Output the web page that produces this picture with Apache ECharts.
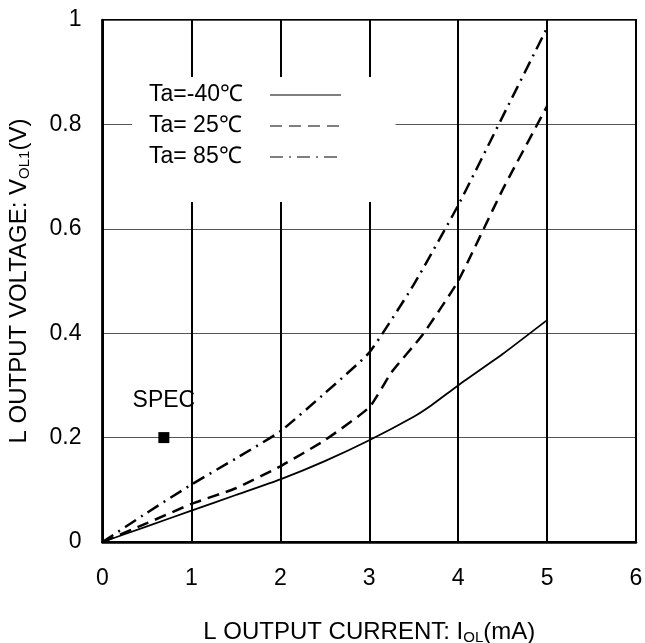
<!DOCTYPE html>
<html>
<head>
<meta charset="utf-8">
<style>html,body{margin:0;padding:0;background:#fff}#c{width:645px;height:643px}</style>
<script src="https://cdn.jsdelivr.net/npm/echarts@6/dist/echarts.min.js"></script>
</head>
<body>
<div id="c"></div>
<script>
const seriesNames = ['Ta=-40\u2103', 'Ta= 25\u2103', 'Ta= 85\u2103'];
const currentMinus40 = [0, 0.5, 1, 1.5, 2, 2.5, 3, 3.5, 3.7, 4, 4.5, 5];
const voltageMinus40 = [0, 0.03, 0.06, 0.09, 0.12, 0.155, 0.195, 0.24, 0.262, 0.3, 0.36, 0.425];
const current25 = [0, 0.5, 1, 1.5, 2, 2.5, 3, 3.25, 3.6, 4, 4.5, 5];
const voltage25 = [0, 0.036, 0.073, 0.103, 0.145, 0.195, 0.258, 0.325, 0.397, 0.5, 0.675, 0.835];
const current85 = [0, 0.5, 1, 1.5, 2, 2.5, 3, 3.5, 4, 4.5, 5];
const voltage85 = [0, 0.056, 0.11, 0.16, 0.212, 0.285, 0.363, 0.493, 0.645, 0.815, 0.985];
const specPoint = [0.69, 0.2];
const specLabel = 'SPEC';
const xTicks = [0, 1, 2, 3, 4, 5, 6];
const yTicks = [0, 0.2, 0.4, 0.6, 0.8, 1];

const FONT = '"Liberation Sans", Arial, sans-serif';
const pairs = (xs, ys) => xs.map((x, i) => [x, ys[i]]);
const nameRich = {
  m: {fontSize: 24, fontFamily: FONT, color: '#000', verticalAlign: 'top', lineHeight: 25},
  s: {fontSize: 15, fontFamily: FONT, color: '#000', verticalAlign: 'bottom', lineHeight: 15, padding: [16, 0, 0, 0]}
};

const chart = echarts.init(document.getElementById('c'), null, {renderer: 'canvas'});
chart.setOption({
  backgroundColor: '#fff',
  animation: false,
  textStyle: {fontFamily: FONT, color: '#000'},
  grid: {left: 102.5, right: 9, top: 20, bottom: 101, outerBoundsMode: 'none', containLabel: false,
         show: true, borderColor: '#000', borderWidth: 2, backgroundColor: 'transparent'},
  legend: {
    data: seriesNames,
    orient: 'vertical',
    align: 'right',
    left: 132,
    top: 77,
    padding: [6, 54, 33, 17],
    backgroundColor: '#fff',
    itemWidth: 71,
    itemHeight: 14,
    itemGap: 7,
    selectedMode: false,
    lineStyle: {width: 1.2},
    itemStyle: {opacity: 0},
    formatter: '{a|{name}}',
    textStyle: {fontFamily: FONT, fontSize: 23, color: '#000', lineHeight: 24,
      rich: {a: {width: 116, align: 'left', fontSize: 23, fontFamily: FONT, color: '#000', lineHeight: 24}}}
  },
  xAxis: {
    type: 'value', min: xTicks[0], max: xTicks[xTicks.length - 1], interval: 1,
    name: '{m|L OUTPUT CURRENT: I}{s|OL}{m|(mA)}',
    nameLocation: 'middle', nameGap: 78,
    nameTextStyle: {rich: nameRich},
    axisLine: {show: true, onZero: false, lineStyle: {color: '#000', width: 2.5}},
    axisTick: {show: false},
    axisLabel: {fontSize: 23, fontFamily: FONT, color: '#000', margin: 25},
    splitLine: {show: true, lineStyle: {color: '#000', width: 2}}
  },
  yAxis: {
    type: 'value', min: yTicks[0], max: yTicks[yTicks.length - 1], interval: 0.2,
    name: '{m|L OUTPUT VOLTAGE: V}{s|OL1}{m|(V)}',
    nameLocation: 'middle', nameGap: 70, nameRotate: 90,
    nameTextStyle: {rich: nameRich},
    axisLine: {show: true, onZero: false, lineStyle: {color: '#000', width: 2.5}},
    axisTick: {show: false},
    axisLabel: {fontSize: 23, fontFamily: FONT, color: '#000', margin: 21},
    splitLine: {show: true, lineStyle: {color: '#555', width: 1.2}}
  },
  series: [
    {name: seriesNames[0], type: 'line', data: pairs(currentMinus40, voltageMinus40), showSymbol: false, symbol: 'none', smooth: 0.15,
     lineStyle: {color: '#000', width: 1.8, type: 'solid'}, itemStyle: {color: '#000'}, z: 3},
    {name: seriesNames[1], type: 'line', data: pairs(current25, voltage25), showSymbol: false, symbol: 'none', smooth: 0.15,
     lineStyle: {color: '#000', width: 2.5, type: [12, 7]}, itemStyle: {color: '#000'}, z: 3},
    {name: seriesNames[2], type: 'line', data: pairs(current85, voltage85), showSymbol: false, symbol: 'none', smooth: 0.15,
     lineStyle: {color: '#000', width: 2.5, type: [13, 6, 2, 6]}, itemStyle: {color: '#000'}, z: 3},
    {name: specLabel, type: 'scatter', data: [specPoint], symbol: 'rect', symbolSize: 11,
     itemStyle: {color: '#000', opacity: 1},
     label: {show: true, position: 'top', distance: 20, formatter: specLabel, fontSize: 23, fontFamily: FONT, color: '#000', opacity: 1}, z: 4}
  ]
});
</script>
</body>
</html>
